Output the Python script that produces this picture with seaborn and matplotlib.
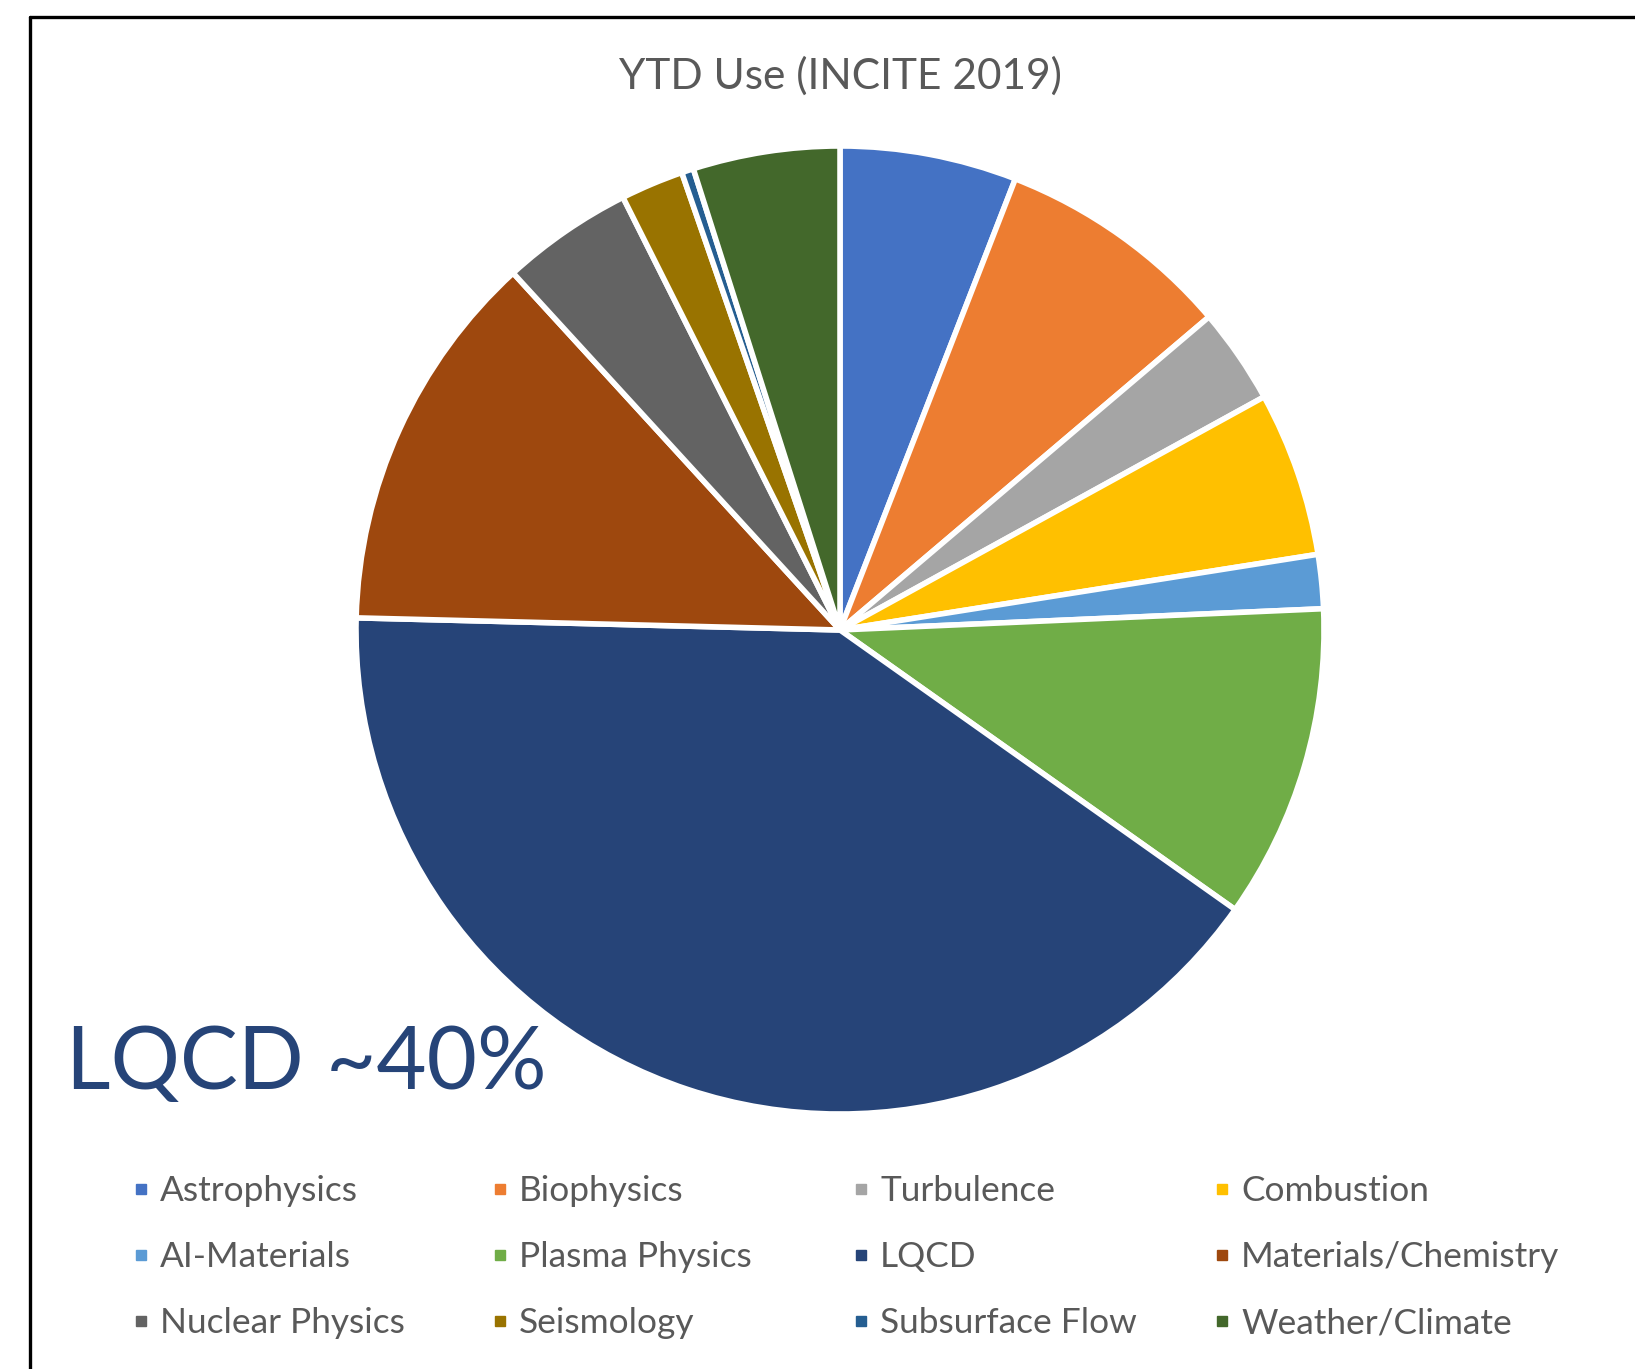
import matplotlib
matplotlib.use("Agg")
import matplotlib.pyplot as plt
from matplotlib.lines import Line2D
import seaborn as sns

# Year-to-date usage share by science domain (percent)
categories = [
    "Astrophysics", "Biophysics", "Turbulence", "Combustion",
    "AI-Materials", "Plasma Physics", "LQCD", "Materials/Chemistry",
    "Nuclear Physics", "Seismology", "Subsurface Flow", "Weather/Climate",
]
shares = [5.9, 7.9, 3.2, 5.5, 1.8, 10.5, 40.6, 12.8, 4.4, 2.1, 0.4, 4.9]
palette_hex = [
    "#4472C4", "#ED7D31", "#A5A5A5", "#FFC000",
    "#5B9BD5", "#70AD47", "#264478", "#9E480E",
    "#636363", "#997300", "#255E91", "#43682B",
]
title_text = "YTD Use (INCITE 2019)"
callout_text = "LQCD ~40%"

sns.set_theme(style="white")
plt.rcParams["font.family"] = ["Lato", "DejaVu Sans"]
colors = sns.color_palette(palette_hex)

W, H = 1635, 1369
fig = plt.figure(figsize=(W / 100, H / 100), dpi=100)
fig.patch.set_facecolor("white")

# Pie axes: centre (840, 630) px, radius ~484 px
cx, cy, r = 840, 630, 484
ax = fig.add_axes([(cx - r) / W, (H - cy - r) / H, 2 * r / W, 2 * r / H])
ax.pie(
    shares,
    colors=colors,
    startangle=90,
    counterclock=False,
    radius=1.0,
    wedgeprops=dict(edgecolor="white", linewidth=4.0, joinstyle="miter"),
)
ax.set_xlim(-1, 1)
ax.set_ylim(-1, 1)
ax.set_aspect("equal")
ax.axis("off")

# Outer frame (top and left edges visible)
frame_kw = dict(color="black", linewidth=2.4, transform=fig.transFigure)
fig.add_artist(Line2D([30 / W, 1.0], [1 - 17 / H, 1 - 17 / H], **frame_kw))
fig.add_artist(Line2D([30 / W, 30 / W], [1 - 17 / H, 0.0], **frame_kw))

# Title
fig.text(cx / W, 1 - 76 / H, title_text, ha="center", va="center",
         fontsize=30.5, color="#595959")

# Large callout
fig.text(66 / W, 1 - 1089 / H, callout_text, ha="left", va="baseline",
         fontsize=62.5, color="#264478")

# Legend: four evenly spaced columns, row-major order
col_x = [132, 491, 852, 1213]
for j, x in enumerate(col_x):
    idx = [j, j + 4, j + 8]
    handles = [
        Line2D([], [], linestyle="none", marker="s", markersize=7.5,
               markerfacecolor=colors[i], markeredgecolor=colors[i])
        for i in idx
    ]
    leg = fig.legend(
        handles, [categories[i] for i in idx],
        loc="upper left", bbox_to_anchor=(x / W, 1 - 1175 / H),
        frameon=False, fontsize=25.4, handlelength=0.5, handletextpad=0.3,
        labelspacing=0.97, borderpad=0, borderaxespad=0,
    )
    for t in leg.get_texts():
        t.set_color("#595959")

fig.savefig("out.png", dpi=100, facecolor="white")
